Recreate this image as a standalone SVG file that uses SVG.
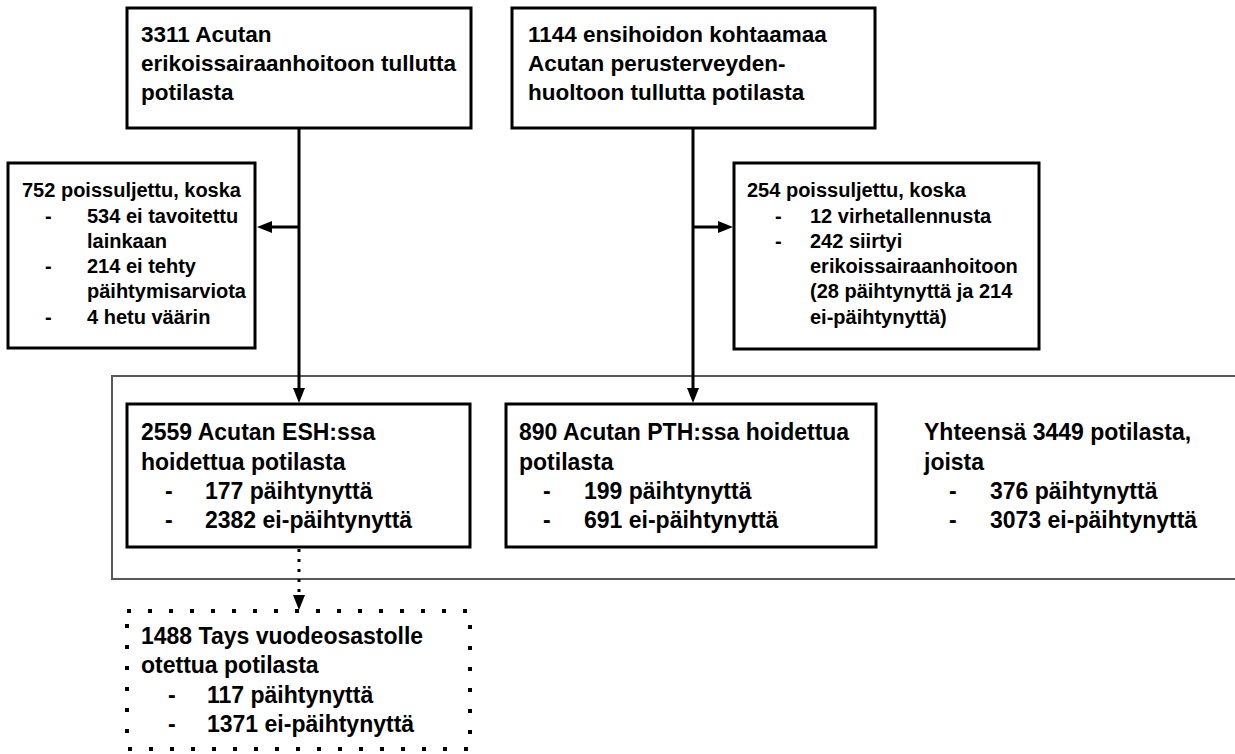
<svg xmlns="http://www.w3.org/2000/svg" width="1235" height="754" viewBox="0 0 1235 754">
<style>
.box{fill:#fff;stroke:#000;stroke-width:3}
.cont{fill:none;stroke:#595959;stroke-width:2}
.dot{fill:#fff;stroke:#000;stroke-width:4;stroke-dasharray:4 17}
.t{font-family:"Liberation Sans",Arial,sans-serif;font-weight:bold;font-size:22.5px;fill:#000}
.m{font-family:"Liberation Sans",Arial,sans-serif;font-weight:bold;font-size:23px;fill:#000}
.s{font-family:"Liberation Sans",Arial,sans-serif;font-weight:bold;font-size:20px;fill:#000}
.ln{fill:none;stroke:#000;stroke-width:3}
.dl{fill:none;stroke:#000;stroke-width:3;stroke-dasharray:3 7}
</style>
<defs>
<marker id="ah" markerUnits="userSpaceOnUse" markerWidth="16" markerHeight="12" refX="5" refY="6" orient="auto">
<path d="M0,0 L15,6 L0,12 z" fill="#000"/>
</marker>
</defs>
<rect class="cont" x="112" y="376" width="1130" height="203"/>
<g id="connectors">
<path class="ln" d="M299,128 V393" marker-end="url(#ah)"/>
<path class="ln" d="M299,227 H267" marker-end="url(#ah)"/>
<path class="ln" d="M693,128 V393" marker-end="url(#ah)"/>
<path class="ln" d="M693,227 H723" marker-end="url(#ah)"/>
<path class="dl" d="M299,549 V600" marker-end="url(#ah)"/>
</g>
<g id="n1">
<rect class="box" x="127" y="8" width="344" height="120"/>
<text class="t" x="141" y="42">3311 Acutan</text>
<text class="t" x="141" y="71">erikoissairaanhoitoon tullutta</text>
<text class="t" x="141" y="100">potilasta</text>
</g>
<g id="n2">
<rect class="box" x="512" y="8" width="363" height="120"/>
<text class="t" x="528" y="42">1144 ensihoidon kohtaamaa</text>
<text class="t" x="528" y="71">Acutan perusterveyden-</text>
<text class="t" x="528" y="100">huoltoon tullutta potilasta</text>
</g>
<g id="ex1">
<rect class="box" x="8" y="163" width="247" height="185"/>
<text class="s" x="22" y="197">752 poissuljettu, koska</text>
<text class="s" x="45" y="223">-</text>
<text class="s" x="87" y="223">534 ei tavoitettu</text>
<text class="s" x="87" y="248">lainkaan</text>
<text class="s" x="45" y="273">-</text>
<text class="s" x="87" y="273">214 ei tehty</text>
<text class="s" x="87" y="298">päihtymisarviota</text>
<text class="s" x="45" y="324">-</text>
<text class="s" x="87" y="324">4 hetu väärin</text>
</g>
<g id="ex2">
<rect class="box" x="734" y="163" width="305" height="186"/>
<text class="s" x="747" y="197">254 poissuljettu, koska</text>
<text class="s" x="775" y="223">-</text>
<text class="s" x="810" y="223">12 virhetallennusta</text>
<text class="s" x="775" y="248">-</text>
<text class="s" x="810" y="248">242 siirtyi</text>
<text class="s" x="810" y="273">erikoissairaanhoitoon</text>
<text class="s" x="810" y="298">(28 päihtynyttä ja 214</text>
<text class="s" x="810" y="324">ei-päihtynyttä)</text>
</g>
<g id="n3">
<rect class="box" x="127" y="404" width="343" height="143"/>
<text class="m" x="141" y="440">2559 Acutan ESH:ssa</text>
<text class="m" x="141" y="470">hoidettua potilasta</text>
<text class="m" x="165" y="499">-</text>
<text class="m" x="205" y="499">177 päihtynyttä</text>
<text class="m" x="165" y="528">-</text>
<text class="m" x="205" y="528">2382 ei-päihtynyttä</text>
</g>
<g id="n4">
<rect class="box" x="506" y="404" width="370" height="143"/>
<text class="m" x="519" y="440">890 Acutan PTH:ssa hoidettua</text>
<text class="m" x="519" y="470">potilasta</text>
<text class="m" x="543" y="499">-</text>
<text class="m" x="584" y="499">199 päihtynyttä</text>
<text class="m" x="543" y="528">-</text>
<text class="m" x="584" y="528">691 ei-päihtynyttä</text>
</g>
<g id="total">
<text class="m" x="924" y="440">Yhteensä 3449 potilasta,</text>
<text class="m" x="924" y="470">joista</text>
<text class="m" x="949" y="499">-</text>
<text class="m" x="990" y="499">376 päihtynyttä</text>
<text class="m" x="949" y="528">-</text>
<text class="m" x="990" y="528">3073 ei-päihtynyttä</text>
</g>
<g id="n5">
<rect class="dot" x="127" y="611" width="343" height="138"/>
<text class="m" x="141" y="644">1488 Tays vuodeosastolle</text>
<text class="m" x="141" y="673">otettua potilasta</text>
<text class="m" x="168" y="703">-</text>
<text class="m" x="207" y="703">117 päihtynyttä</text>
<text class="m" x="168" y="732">-</text>
<text class="m" x="207" y="732">1371 ei-päihtynyttä</text>
</g>
</svg>
